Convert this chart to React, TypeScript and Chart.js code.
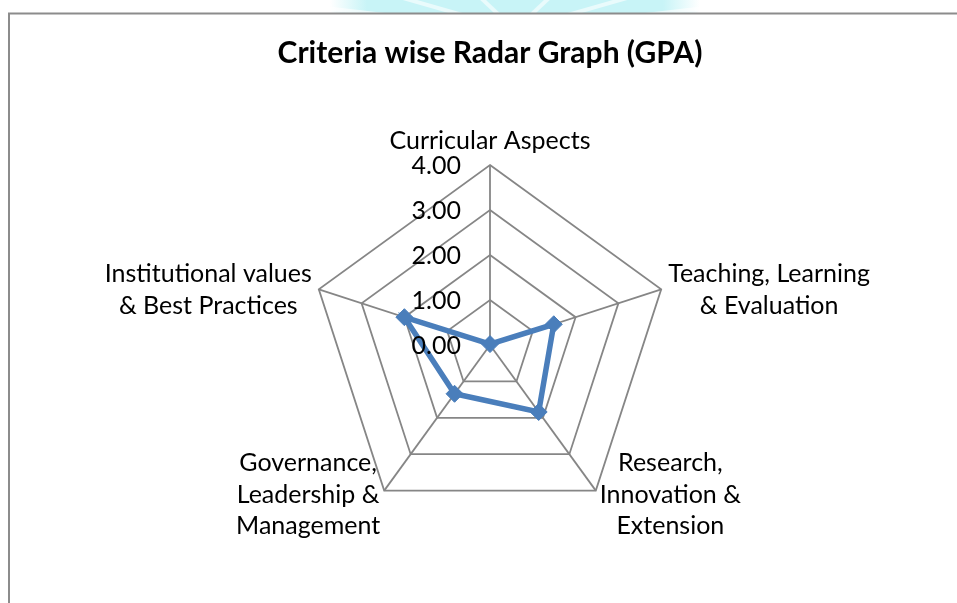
import { useEffect, useRef } from "react";
import { Chart, registerables } from "chart.js";

Chart.register(...registerables);

const chartTitle = "Criteria wise Radar Graph (GPA)";
const categories: string[][] = [
  ["Curricular Aspects"],
  ["Teaching, Learning", "& Evaluation"],
  ["Research,", "Innovation &", "Extension"],
  ["Governance,", "Leadership &", "Management"],
  ["Institutional values", "& Best Practices"],
];
const gpaValues = [0.02, 1.49, 1.84, 1.34, 2.0];
const tickValues = [0, 1, 2, 3, 4];
const tickLabels = ["0.00", "1.00", "2.00", "3.00", "4.00"];

const FONT = "Lato, Carlito, Calibri, sans-serif";
const W = 957;
const H = 603;

const decorPlugin = {
  id: "decor",
  beforeDraw(chart: any) {
    const ctx = chart.ctx as CanvasRenderingContext2D;
    ctx.save();
    ctx.fillStyle = "#ffffff";
    ctx.fillRect(0, 0, W, H);
    // faint watermark band at the very top
    ctx.beginPath();
    ctx.rect(0, 0, W, 13);
    ctx.clip();
    const g = ctx.createLinearGradient(330, 0, 700, 0);
    g.addColorStop(0, "rgba(200,244,247,0)");
    g.addColorStop(0.1, "rgba(200,244,247,1)");
    g.addColorStop(0.9, "rgba(200,244,247,1)");
    g.addColorStop(1, "rgba(200,244,247,0)");
    ctx.fillStyle = g;
    ctx.fillRect(330, 0, 370, 13);
    ctx.strokeStyle = "rgba(255,255,255,0.6)";
    ctx.lineWidth = 4;
    for (const a of [-60, -35, -12, 12, 35, 60]) {
      const r = (a * Math.PI) / 180;
      ctx.beginPath();
      ctx.moveTo(515, 30);
      ctx.lineTo(515 + Math.sin(r) * 300, 30 - Math.cos(r) * 60);
      ctx.stroke();
    }
    ctx.restore();
    // chart border (left and top)
    ctx.save();
    ctx.strokeStyle = "#8c8c8c";
    ctx.lineWidth = 2;
    ctx.beginPath();
    ctx.moveTo(9, H);
    ctx.lineTo(9, 13.5);
    ctx.lineTo(W, 13.5);
    ctx.stroke();
    ctx.restore();
  },
  afterDraw(chart: any) {
    const scale = chart.scales.r;
    const ctx = chart.ctx as CanvasRenderingContext2D;
    ctx.save();
    ctx.fillStyle = "#000000";
    ctx.textBaseline = "alphabetic";

    // title
    ctx.font = `bold 30px ${FONT}`;
    ctx.textAlign = "center";
    ctx.fillText(chartTitle, scale.xCenter, 63);

    // tick labels
    ctx.font = `25px ${FONT}`;
    ctx.textAlign = "right";
    tickValues.forEach((v, i) => {
      const y = scale.yCenter - scale.getDistanceFromCenterForValue(v);
      ctx.fillText(tickLabels[i], scale.xCenter - 29, y + 9);
    });

    // point labels
    const R = scale.drawingArea;
    const lh = 31.5;
    ctx.textAlign = "center";
    categories.forEach((lines, i) => {
      const p = scale.getPointPosition(i, R);
      const dx = p.x - scale.xCenter;
      const dy = p.y - scale.yCenter;
      const maxW = Math.max(...lines.map((l) => ctx.measureText(l).width));
      const n = lines.length;
      let cx: number;
      let firstBase: number;
      if (Math.abs(dx) < 2) {
        cx = p.x;
        firstBase = p.y - 16 - (n - 1) * lh;
      } else {
        const gap = dy < 0 ? 7 : 4;
        cx = dx > 0 ? p.x + gap + maxW / 2 : p.x - gap - maxW / 2;
        const mid = dy < 0 ? 8.5 : 12.3;
        firstBase = p.y + mid - ((n - 1) * lh) / 2;
      }
      lines.forEach((l, k) => ctx.fillText(l, cx, firstBase + k * lh));
    });
    ctx.restore();
  },
};

export default function App() {
  const ref = useRef<HTMLCanvasElement | null>(null);
  useEffect(() => {
    if (!ref.current) return;
    const chart = new Chart(ref.current, {
      type: "radar",
      data: {
        labels: categories,
        datasets: [
          {
            label: "GPA",
            data: gpaValues,
            borderColor: "#4a7ebb",
            backgroundColor: "#4a7ebb",
            borderWidth: 5.5,
            fill: false,
            tension: 0,
            pointStyle: "rectRot",
            pointRadius: 8.5,
            pointBorderWidth: 1,
            pointBackgroundColor: "#4a7ebb",
            pointBorderColor: "#4a7ebb",
          },
        ],
      },
      options: {
        responsive: false,
        animation: false,
        devicePixelRatio: 1,
        layout: { padding: { left: 310, right: 287, top: 165, bottom: 78 } },
        plugins: {
          legend: { display: false },
          tooltip: { enabled: false },
          title: { display: false },
        },
        scales: {
          r: {
            min: 0,
            max: 4,
            ticks: { stepSize: 1, display: false },
            grid: { color: "#868686", lineWidth: 1.8 },
            angleLines: { color: "#868686", lineWidth: 1.8 },
            pointLabels: { display: false },
          },
        },
      },
      plugins: [decorPlugin],
    } as any);
    return () => chart.destroy();
  }, []);
  return (
    <div style={{ position: "fixed", left: 0, top: 0, width: W, height: H, background: "#fff" }}>
      <canvas ref={ref} width={W} height={H} style={{ display: "block", width: W, height: H }} />
    </div>
  );
}
